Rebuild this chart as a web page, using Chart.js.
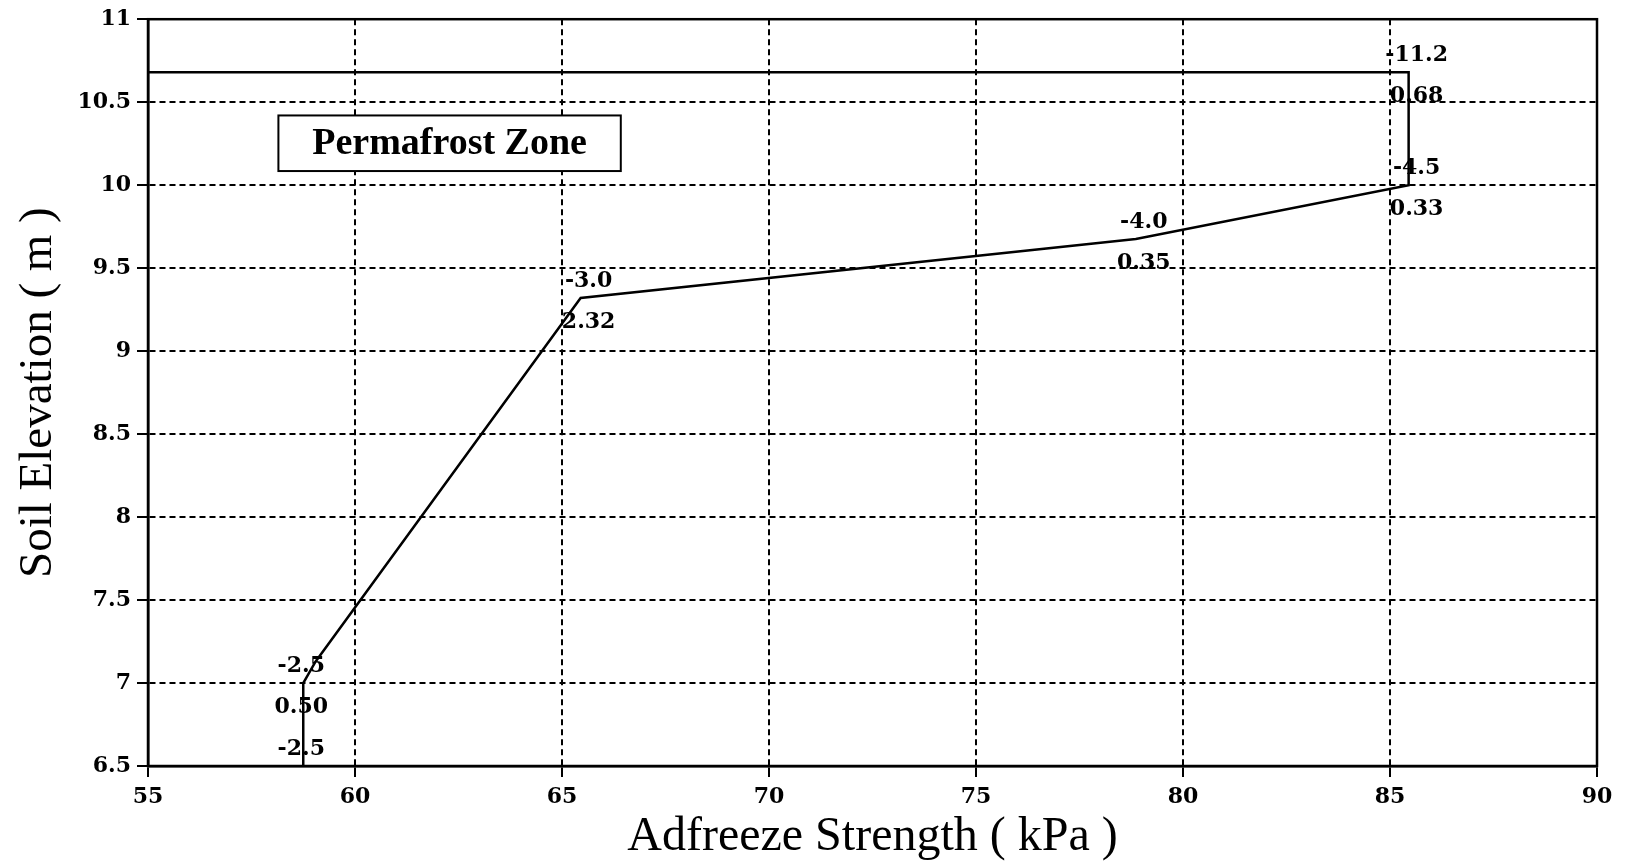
<!DOCTYPE html>
<html>
<head>
<meta charset="utf-8">
<script src="https://cdn.jsdelivr.net/npm/chart.js@4/dist/chart.umd.min.js"></script>
<style>
  html, body { margin: 0; padding: 0; background: #fff; }
  #wrap { width: 1629px; height: 862px; position: relative; }
</style>
</head>
<body>
<div id="wrap"><canvas id="adfreezeChart"></canvas></div>
<script>
// --- 데이터 ---
const strengths  = [58.75, 58.75, 59.05, 65.45, 78.86, 85.45, 85.45, 55];   // kPa
const elevations = [6.5,   7.0,   7.13,  9.32,  9.675, 10.0,  10.68, 10.68]; // m
const upperLabels = ['-2.5', '-2.5', '', '-3.0', '-4.0', '-4.5', '-11.2', ''];
const lowerLabels = ['',     '0.50', '', '2.32', '0.35', '0.33', '0.68',  ''];
const xTicks = [55, 60, 65, 70, 75, 80, 85, 90];
const yTicks = [6.5, 7, 7.5, 8, 8.5, 9, 9.5, 10, 10.5, 11];
const yTickLabels = ['6.5', '7', '7.5', '8', '8.5', '9', '9.5', '10', '10.5', '11'];
const zoneText = 'Permafrost Zone';
const zoneBox = { x1: 58.15, x2: 66.42, y1: 10.42, y2: 10.085 }; // 데이터 좌표

const labelFont = 'bold 22px "DejaVu Serif"';

// 테두리 + 점 라벨 + 박스 그리는 플러그인
const extrasPlugin = {
    id: 'extras',
    afterDatasetsDraw(chart) {
        const { ctx, chartArea: a, scales: { x, y } } = chart;
        ctx.save();
        // 바깥 프레임
        ctx.strokeStyle = '#000';
        ctx.lineWidth = 2.5;
        ctx.setLineDash([]);
        ctx.strokeRect(a.left, a.top, a.right - a.left, a.bottom - a.top);

        // 점 위/아래 숫자
        ctx.font = labelFont;
        ctx.fillStyle = '#000';
        ctx.textAlign = 'center';
        ctx.textBaseline = 'middle';
        for (let i = 0; i < strengths.length; i++) {
            const px = x.getPixelForValue(strengths[i]);
            const py = y.getPixelForValue(elevations[i]);
            const dx = strengths[i] < 60 ? -2 : 8;
            if (upperLabels[i]) ctx.fillText(upperLabels[i], px + dx, py - 17);
            if (lowerLabels[i]) ctx.fillText(lowerLabels[i], px + dx, py + 24);
        }

        // Permafrost Zone 박스
        const bx1 = x.getPixelForValue(zoneBox.x1), bx2 = x.getPixelForValue(zoneBox.x2);
        const by1 = y.getPixelForValue(zoneBox.y1), by2 = y.getPixelForValue(zoneBox.y2);
        ctx.fillStyle = '#fff';
        ctx.fillRect(bx1, by1, bx2 - bx1, by2 - by1);
        ctx.lineWidth = 2;
        ctx.strokeRect(bx1, by1, bx2 - bx1, by2 - by1);
        ctx.fillStyle = '#000';
        ctx.font = 'bold 38px "Liberation Serif"';
        ctx.fillText(zoneText, (bx1 + bx2) / 2, (by1 + by2) / 2 + 1);
        ctx.restore();
    }
};

const gridStyle = {
    color: '#000',
    lineWidth: 2,
    tickLength: 11,
    tickColor: '#000',
    tickWidth: 2,
    tickBorderDash: []
};

new Chart(document.getElementById('adfreezeChart'), {
    type: 'scatter',
    data: {
        datasets: [{
            data: strengths.map((s, i) => ({ x: s, y: elevations[i] })),
            showLine: true,
            borderColor: '#000',
            borderWidth: 2.5,
            pointRadius: 0,
            tension: 0
        }]
    },
    options: {
        responsive: true,
        maintainAspectRatio: false,
        animation: false,
        layout: { padding: { top: 18, right: 32, left: 0, bottom: 0 } },
        plugins: {
            legend: { display: false },
            tooltip: { enabled: false }
        },
        scales: {
            x: {
                type: 'linear',
                min: 55, max: 90,
                afterBuildTicks: (s) => { s.ticks = xTicks.map(v => ({ value: v })); },
                afterFit: (s) => { s.height = 96; },
                grid: gridStyle,
                border: { display: true, color: '#000', width: 2.5, dash: [6, 4] },
                ticks: {
                    color: '#000',
                    font: { family: 'DejaVu Serif', size: 22, weight: 'bold' },
                    padding: 7,
                    maxRotation: 0
                },
                title: {
                    display: true,
                    text: 'Adfreeze Strength ( kPa )',
                    color: '#000',
                    font: { family: 'Liberation Serif', size: 48 },
                    padding: { top: 0, bottom: -4 }
                }
            },
            y: {
                type: 'linear',
                min: 6.5, max: 11,
                afterBuildTicks: (s) => { s.ticks = yTicks.map(v => ({ value: v })); },
                afterFit: (s) => { s.width = 148; },
                grid: gridStyle,
                border: { display: true, color: '#000', width: 2.5, dash: [6, 4] },
                ticks: {
                    color: '#000',
                    font: { family: 'DejaVu Serif', size: 22, weight: 'bold' },
                    padding: 6,
                    callback: (v) => yTickLabels[yTicks.indexOf(v)]
                },
                title: {
                    display: true,
                    text: 'Soil Elevation ( m )',
                    color: '#000',
                    font: { family: 'Liberation Serif', size: 47 },
                    padding: { top: 10, bottom: 0 }
                }
            }
        }
    },
    plugins: [extrasPlugin]
});
</script>
</body>
</html>
